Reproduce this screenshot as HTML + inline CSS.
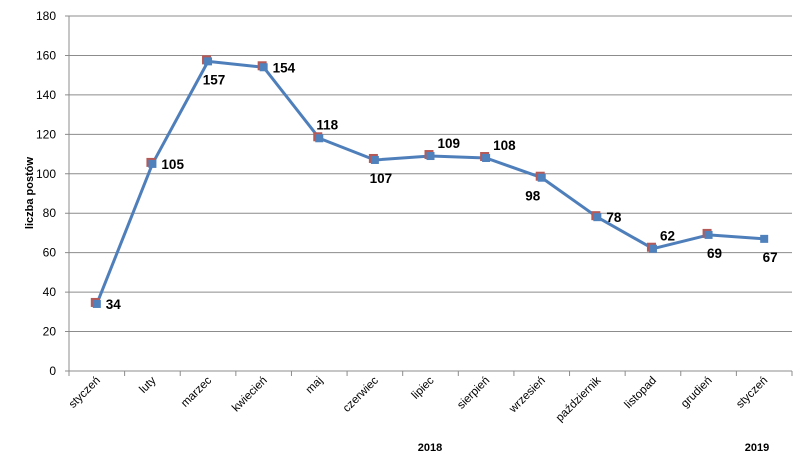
<!DOCTYPE html>
<html><head><meta charset="utf-8"><style>
html,body{margin:0;padding:0;background:#fff;}
svg{display:block;font-family:"Liberation Sans",sans-serif;}
</style></head><body>
<svg id="chart" width="804" height="472" viewBox="0 0 804 472"></svg>
<script>
const categories=["styczeń","luty","marzec","kwiecień","maj","czerwiec","lipiec","sierpień","wrzesień","październik","listopad","grudień","styczeń"];
const values=[34,105,157,154,118,107,109,108,98,78,62,69,67];
const yTicks=[0,20,40,60,80,100,120,140,160,180];
const labelPos=["r","r","b","r","t","b","tr","tr","bl","r","tr","b","b"];
const years=[{t:"2018",x:430},{t:"2019",x:757}];
const NS="http://www.w3.org/2000/svg";
const svg=document.getElementById('chart');
const L=69,R=792,T=16,B=371,YMAX=180;
const bw=(R-L)/categories.length;
function xS(i){return L+bw*(i+0.5);}
function yS(v){return B-(v/YMAX)*(B-T);}
function mk(tag,attrs,parent){const e=document.createElementNS(NS,tag);for(const k in attrs)e.setAttribute(k,attrs[k]);(parent||svg).appendChild(e);return e;}
yTicks.forEach(v=>{
  const g=mk('line',{x1:L-4,x2:R,y1:yS(v),y2:yS(v),stroke:'#8c8c8c','stroke-width':1});
  
  
  const t=mk('text',{x:56,y:yS(v)+4,'text-anchor':'end','font-size':12,fill:'#000'});
  t.textContent=v;
  
  
});
const ya=mk('line',{x1:L,x2:L,y1:T,y2:B,stroke:'#8c8c8c','stroke-width':1});


for(let i=0;i<=categories.length;i++){
  const x=L+bw*i;
  const tk=mk('line',{x1:x,x2:x,y1:B,y2:B+5,stroke:'#8c8c8c','stroke-width':1});
  
  
}
categories.forEach((c,i)=>{
  const x=xS(i)+4,y=B+10;
  const t=mk('text',{x:x,y:y,'text-anchor':'end','font-size':11.5,fill:'#000',transform:`rotate(-45 ${x} ${y})`});
  t.textContent=c;
  
  
});
years.forEach(yr=>{
  const t=mk('text',{x:yr.x,y:451,'text-anchor':'middle','font-size':11,'font-weight':'bold',fill:'#000'});
  t.textContent=yr.t;
  
  
});
const yt=mk('text',{x:33,y:193,'text-anchor':'middle','font-size':11,'font-weight':'bold',fill:'#000',transform:'rotate(-90 33 193)'});
yt.textContent="liczba postów";


const pts=values.map((v,i)=>xS(i)+','+yS(v)).join(' ');
const line=mk('polyline',{points:pts,fill:'none',stroke:'#4f7fbb','stroke-width':3,'stroke-linejoin':'round'});


values.forEach((v,i)=>{
  const x=xS(i),y=yS(v);
  if(i<values.length-1){
    const r=mk('rect',{x:x-6,y:y-6,width:9,height:9,fill:'#b65a58'});
    
    
  }
  const b=mk('rect',{x:x-4,y:y-4,width:8,height:8,fill:'#4f81bd'});
  
  
  let lx=x,ly=y,anc='start';
  const p=labelPos[i];
  if(p==='r'){lx=x+9;ly=y+5;}
  else if(p==='b'){lx=x+6;ly=y+23;anc='middle';}
  else if(p==='t'){lx=x+8;ly=y-9;anc='middle';}
  else if(p==='tr'){lx=x+7;ly=y-8;}
  else if(p==='bl'){lx=x-9;ly=y+23;anc='middle';}
  const t=mk('text',{x:lx,y:ly,'text-anchor':anc,'font-size':13.5,'font-weight':'bold',fill:'#000'});
  t.textContent=v;
  
  
});
</script>
</body></html>
